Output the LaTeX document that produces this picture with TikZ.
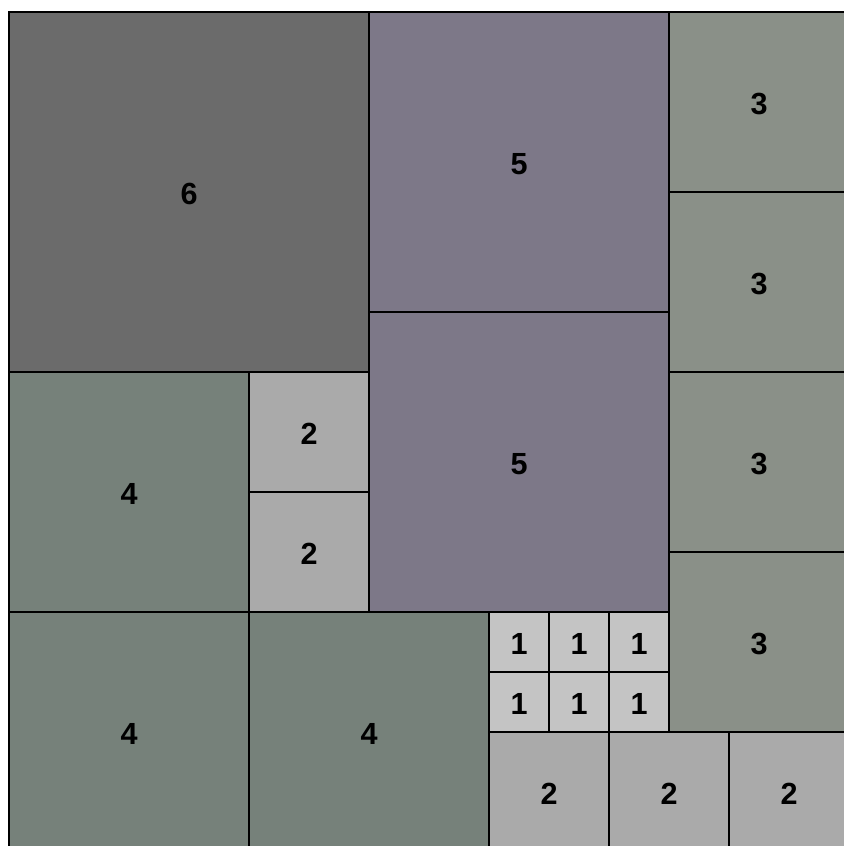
\documentclass[tikz,border=0pt]{standalone}
\usepackage{fontspec}
\setmainfont{Liberation Sans}
\definecolor{csix}{RGB}{107,107,107}
\definecolor{cfive}{RGB}{125,120,136}
\definecolor{cfour}{RGB}{118,129,122}
\definecolor{cthree}{RGB}{138,144,136}
\definecolor{ctwo}{RGB}{170,170,170}
\definecolor{cone}{RGB}{196,196,196}
\tikzset{sq/.style={draw=black, line width=1.4pt, minimum size=#1 cm, inner sep=0pt, outer sep=0pt, text height=1.2em, text depth=0pt, font=\fontsize{14.5}{17}\selectfont\bfseries}}
\begin{document}
\begin{tikzpicture}[line join=miter]
			\useasboundingbox (-0.15,0.1) rectangle (13.9,14.2);
			\node[sq=6,fill=csix] (six) at (3,11) {6};
			\node[sq=5,fill=cfive] (fivea) at (8.5,11.5) {5};
			\node[sq=5,fill=cfive] (fiveb) at (8.5,6.5) {5};
			\foreach \y/\n in {12.5/a,9.5/b,6.5/c,3.5/d}
				\node[sq=3,fill=cthree] (three\n) at (12.5,\y) {3};
			\node[sq=4,fill=cfour] (foura) at (2,6) {4};
			\node[sq=4,fill=cfour] (fourb) at (2,2) {4};
			\node[sq=4,fill=cfour] (fourc) at (6,2) {4};
			\node[sq=2,fill=ctwo] (twoa) at (5,7) {2};
			\node[sq=2,fill=ctwo] (twob) at (5,5) {2};
			\foreach \x/\n in {9/c,11/d,13/e}
				\node[sq=2,fill=ctwo] (two\n) at (\x,1) {2};
			\foreach \x in {1,2,3}
				\foreach \y in {1,2}
					\node[sq=1,fill=cone] (one\x\y) at (7.5+\x,4.5-\y) {1};
		\end{tikzpicture}
\end{document}
